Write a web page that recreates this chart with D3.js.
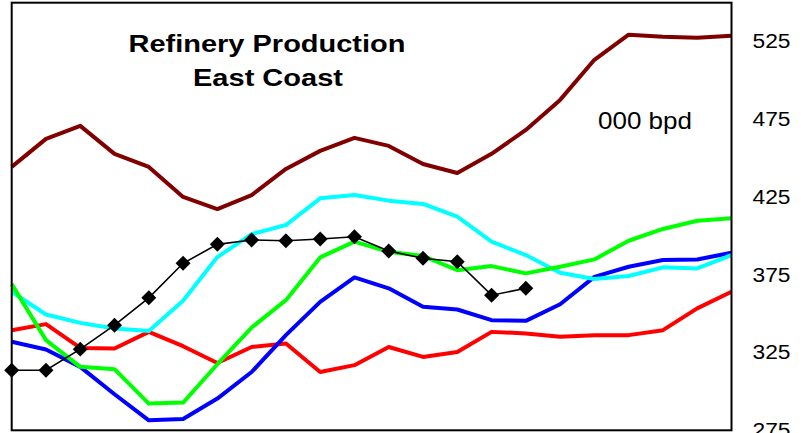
<!DOCTYPE html>
<html>
<head>
<meta charset="utf-8">
<script src="https://cdn.jsdelivr.net/npm/d3@7"></script>
<style>
  html, body { margin: 0; padding: 0; background: #fff; }
  svg { display: block; font-family: "Liberation Sans", Arial, sans-serif; }
</style>
</head>
<body>
<svg id="chart" width="803" height="433"></svg>
<script>
// ---- data ----
const periods = d3.range(1, 23).map(d => "P" + d);   // 22 periods along x
const yTicks = [275, 325, 375, 425, 475, 525];

const seriesDarkRed = [444.4, 462.4, 470.8, 452.8, 444.4, 425.1, 417.3, 426.3, 443.1, 454.7, 463.1,
                       457.9, 446.3, 440.5, 452.8, 468.2, 487.5, 513.3, 529.4, 528.1, 527.5, 528.8];
const seriesRed     = [339.4, 343.3, 328.0, 327.6, 338.3, 329.1, 318.3, 328.6, 330.8, 312.5, 316.9,
                       328.6, 322.2, 325.4, 338.3, 337.3, 335.1, 336.2, 336.2, 339.4, 353.4, 364.1];
const seriesBlue    = [331.9, 327.0, 315.8, 298.2, 281.4, 282.3, 295.4, 312.5, 336.2, 357.6, 373.3,
                       366.3, 354.4, 352.7, 345.8, 345.4, 356.1, 373.7, 380.2, 384.5, 384.9, 389.2];
const seriesCyan    = [364.1, 349.5, 344.1, 340.5, 338.8, 358.3, 386.4, 401.2, 407.0, 424.2, 426.3,
                       422.7, 420.6, 412.4, 396.3, 387.7, 376.3, 372.3, 374.2, 379.8, 379.1, 387.7];
const seriesGreen   = [369.0, 333.0, 315.8, 314.3, 292.2, 292.8, 317.5, 341.1, 358.7, 386.2, 396.3,
                       389.8, 387.1, 378.0, 380.6, 375.9, 380.2, 384.9, 396.9, 404.5, 409.8, 411.3];
const seriesCurrent = [313.6, 313.6, 327.2, 342.6, 360.2, 382.4, 394.6, 397.4, 396.9, 398.0, 399.5,
                       390.3, 385.6, 383.4, 361.9, 366.3];

const titleLines = ["Refinery Production", "East Coast"];
const unitLabel = "000 bpd";

// ---- layout ----
const svg = d3.select("#chart");
const plot = { left: 11.7, top: 2.7, right: 731.5, bottom: 430.3 };

const x = d3.scalePoint().domain(periods).range([plot.left, plot.right]);
const y = d3.scaleLinear().domain([275, 550]).range([plot.bottom, plot.top]);

const line = d3.line()
  .x((d, i) => x(periods[i]))
  .y(d => y(d));

const lines = [
  { values: seriesDarkRed, color: "#800000", width: 4 },
  { values: seriesRed,     color: "#ff0000", width: 4 },
  { values: seriesBlue,    color: "#0000ff", width: 4 },
  { values: seriesCyan,    color: "#00ffff", width: 4 },
  { values: seriesGreen,   color: "#00ff00", width: 4 }
];

lines.forEach(s => {
  svg.append("path")
    .datum(s.values)
    .attr("fill", "none")
    .attr("stroke", s.color)
    .attr("stroke-width", s.width)
    .attr("stroke-linejoin", "round")
    .attr("d", line);
});

// current year: black thin line with diamond markers
svg.append("path")
  .datum(seriesCurrent)
  .attr("fill", "none")
  .attr("stroke", "#000")
  .attr("stroke-width", 1.6)
  .attr("d", line);

const diamond = d3.symbol().type(d3.symbolSquare).size(112);
svg.append("g").selectAll("path")
  .data(seriesCurrent)
  .join("path")
  .attr("d", diamond)
  .attr("fill", "#000")
  .attr("transform", (d, i) => `translate(${x(periods[i])},${y(d)}) rotate(45)`);

// frame
svg.append("rect")
  .attr("x", plot.left).attr("y", plot.top)
  .attr("width", plot.right - plot.left).attr("height", plot.bottom - plot.top)
  .attr("fill", "none").attr("stroke", "#000").attr("stroke-width", 2);

// right axis (labels only)
const axis = d3.axisRight(y).tickValues(yTicks).tickSize(0).tickPadding(21);
const gAxis = svg.append("g")
  .attr("transform", `translate(${plot.right},0)`)
  .call(axis);
gAxis.select(".domain").remove();
gAxis.selectAll("text")
  .attr("font-size", 20)
  .attr("font-family", "Liberation Sans, Arial, sans-serif")
  .attr("fill", "#000")
  .attr("textLength", 38)
  .attr("lengthAdjust", "spacingAndGlyphs");

// title
svg.append("text")
  .attr("x", 267).attr("y", 52)
  .attr("text-anchor", "middle")
  .attr("font-size", 23).attr("font-weight", "bold")
  .attr("textLength", 277).attr("lengthAdjust", "spacingAndGlyphs")
  .text(titleLines[0]);
svg.append("text")
  .attr("x", 268).attr("y", 86)
  .attr("text-anchor", "middle")
  .attr("font-size", 23).attr("font-weight", "bold")
  .attr("textLength", 150).attr("lengthAdjust", "spacingAndGlyphs")
  .text(titleLines[1]);

// unit label
svg.append("text")
  .attr("x", 598).attr("y", 128.5)
  .attr("font-size", 24)
  .attr("textLength", 94).attr("lengthAdjust", "spacingAndGlyphs")
  .text(unitLabel);
</script>
</body>
</html>
